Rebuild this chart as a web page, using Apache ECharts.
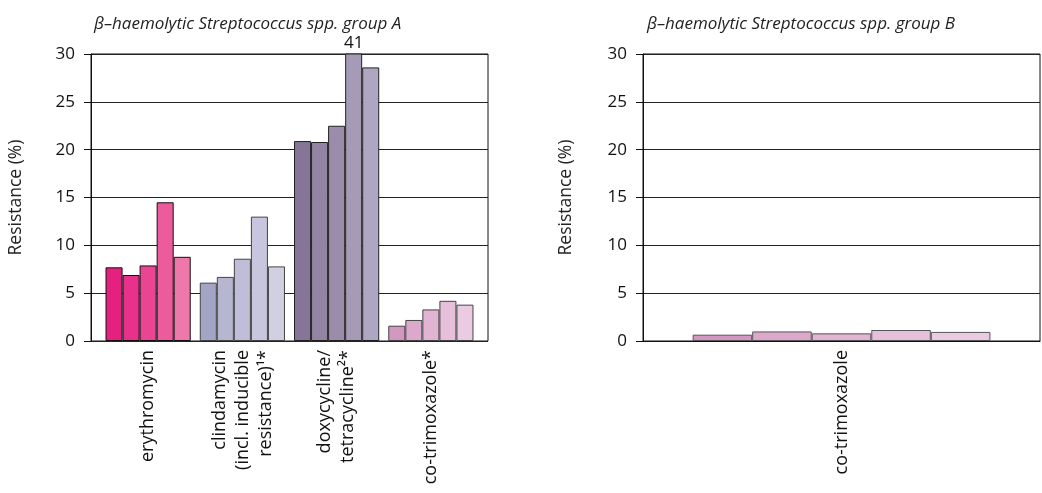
<!DOCTYPE html>
<html>
<head>
<meta charset="utf-8">
<script src="https://cdn.jsdelivr.net/npm/echarts@6/dist/echarts.min.js"></script>
<style>
html,body{margin:0;padding:0;background:#fff;}
#chart{width:1042px;height:493px;}
</style>
</head>
<body>
<div id="chart"></div>
<script>
// ---- data ----
const titleA = 'β–haemolytic Streptococcus spp. group A';
const titleB = 'β–haemolytic Streptococcus spp. group B';
const categoriesA = ['erythromycin', 'clindamycin\n(incl. inducible\nresistance)¹*', 'doxycycline/\ntetracycline²*', 'co-trimoxazole*'];
const categoriesB = ['co-trimoxazole'];
const erythromycinA = [7.7, 6.9, 7.9, 14.5, 8.8];
const clindamycinA = [6.1, 6.7, 8.6, 13.0, 7.8];
const doxycyclineA = [20.9, 20.8, 22.5, 41, 28.6];
const cotrimoxazoleA = [1.6, 2.2, 3.3, 4.2, 3.8];
const cotrimoxazoleB = [0.66, 1.0, 0.8, 1.15, 0.95];
const yTicks = [0, 5, 10, 15, 20, 25, 30];
const yAxisName = 'Resistance (%)';

// ---- styles ----
const paletteErythro = ['#E5207E', '#E8318A', '#EA4593', '#EC5C9C', '#EF78AB'];
const paletteClinda = ['#A2A6C4', '#B6B6D1', '#BFBDD7', '#C8C6DE', '#D1D0E3'];
const paletteDoxy = ['#857596', '#9484A3', '#9C8CAC', '#A69BB6', '#AFA7C1'];
const paletteCotri = ['#D398C2', '#DCA8CC', '#E1B4D3', '#E6BFDA', '#EACBE1'];
const bordersA = ['#111', '#444', '#222', '#444'];
const FONT = 'Open Sans';

const valuesA = [erythromycinA, clindamycinA, doxycyclineA, cotrimoxazoleA];
const palettesA = [paletteErythro, paletteClinda, paletteDoxy, paletteCotri];

const series = [];
for (let i = 0; i < 5; i++) {
  series.push({
    type: 'bar', xAxisIndex: 1, yAxisIndex: 1,
    barGap: '0%', barCategoryGap: '9.6%',
    clip: true,
    data: valuesA.map((vals, c) => {
      const item = { value: vals[i], itemStyle: { color: palettesA[c][i], borderColor: bordersA[c], borderWidth: 1 } };
      if (vals[i] > 30) {
        item.label = { show: true, position: 'top', distance: 2, formatter: String(vals[i]), fontFamily: FONT, fontSize: 17, color: '#111' };
      }
      return item;
    })
  });
}
for (let i = 0; i < 5; i++) {
  series.push({
    type: 'bar', xAxisIndex: 2, yAxisIndex: 2,
    barGap: '0%', barCategoryGap: '25%',
    data: [{ value: cotrimoxazoleB[i], itemStyle: { color: paletteCotri[i], borderColor: '#555', borderWidth: 1 } }]
  });
}

const valueAxisBase = {
  type: 'value', min: yTicks[0], max: yTicks[yTicks.length - 1], interval: yTicks[1] - yTicks[0],
  name: yAxisName, nameLocation: 'middle', nameGap: 66, nameRotate: 90,
  nameTextStyle: { fontFamily: FONT, fontSize: 17.5, color: '#222' },
  axisLine: { show: true, lineStyle: { color: '#111', width: 1 } },
  axisTick: { show: true, length: 7, lineStyle: { color: '#111' } },
  axisLabel: { fontFamily: FONT, fontSize: 17, color: '#111', margin: 16 },
  splitLine: { show: true, lineStyle: { color: '#222', width: 1 } }
};

const titleStyle = { fontFamily: FONT, fontStyle: 'italic', fontWeight: 'normal', fontSize: 17, color: '#222' };

const option = {
  animation: false,
  backgroundColor: '#fff',
  title: [
    { text: titleA, left: 89, top: 11, textStyle: titleStyle },
    { text: titleB, left: 642, top: 11, textStyle: titleStyle }
  ],
  grid: [
    { left: 91, right: 554, top: 54, bottom: 152, show: true, borderColor: '#111', borderWidth: 1, backgroundColor: 'transparent' },
    { left: 101, right: 564, top: 54, bottom: 152 },
    { left: 643, right: 2, top: 54, bottom: 152, show: true, borderColor: '#111', borderWidth: 1, backgroundColor: 'transparent' }
  ],
  xAxis: [
    { type: 'category', gridIndex: 0, data: [''], show: false },
    { type: 'category', gridIndex: 1, data: categoriesA,
      axisLine: { show: false }, axisTick: { show: false },
      axisLabel: { interval: 0, rotate: 90, margin: 9, fontFamily: FONT, fontSize: 18, lineHeight: 23, color: '#111' } },
    { type: 'category', gridIndex: 2, data: categoriesB,
      axisLine: { show: true, lineStyle: { color: '#111' } }, axisTick: { show: false },
      axisLabel: { interval: 0, rotate: 90, margin: 9, fontFamily: FONT, fontSize: 18, lineHeight: 23, color: '#111' } }
  ],
  yAxis: [
    Object.assign({}, valueAxisBase, { gridIndex: 0 }),
    { type: 'value', gridIndex: 1, min: yTicks[0], max: yTicks[yTicks.length - 1], show: false, splitLine: { show: false } },
    Object.assign({}, valueAxisBase, { gridIndex: 2, nameGap: 68 })
  ],
  series: series
};

const chart = echarts.init(document.getElementById('chart'), null, { renderer: 'canvas' });
chart.setOption(option);
</script>
</body>
</html>
